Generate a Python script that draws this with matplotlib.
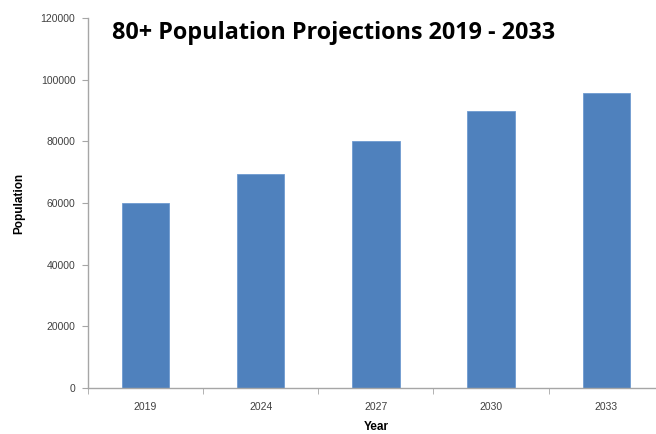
import matplotlib
matplotlib.use("Agg")
import matplotlib.pyplot as plt

plt.rcParams["font.family"] = ["Liberation Sans", "DejaVu Sans"]

years = ["2019", "2024", "2027", "2030", "2033"]
population = [60000, 69500, 80000, 90000, 95700]
y_ticks = [0, 20000, 40000, 60000, 80000, 100000, 120000]

fig = plt.figure(figsize=(6.56, 4.34), dpi=100)
ax = fig.add_axes([0.134, 0.106, 0.878, 0.8525])

x = range(len(years))
ax.bar(x, population, width=0.41, color="#4F81BD", edgecolor="#6f9bd0", linewidth=0.6)

ax.set_xlim(-0.5, len(years) - 0.5)
ax.set_ylim(0, 120000)
ax.set_yticks(y_ticks)
ax.set_yticklabels([str(v) for v in y_ticks])
ax.set_xticks(list(x))
ax.set_xticklabels(years)

# category separators on x axis instead of centred ticks
ax.set_xticks([i - 0.5 for i in range(len(years) + 1)], minor=True)
ax.tick_params(axis="x", which="major", length=0, pad=10)
ax.tick_params(axis="x", which="minor", length=4, color="#a6a6a6")
ax.tick_params(axis="y", length=4, color="#a6a6a6", pad=5)
ax.tick_params(labelsize=7.5, labelcolor="#404040")

for s in ["top", "right"]:
    ax.spines[s].set_visible(False)
for s in ["left", "bottom"]:
    ax.spines[s].set_color("#a6a6a6")
    ax.spines[s].set_linewidth(1)

ax.set_xlabel("Year", fontsize=8.5, fontweight="bold", labelpad=6.5)
ax.set_ylabel("Population", fontsize=8.5, fontweight="bold", labelpad=11)

fig.text(0.171, 0.925, "80+ Population Projections 2019 - 2033",
         fontsize=16.8, fontweight="bold", family="Open Sans", va="center", ha="left")

fig.savefig("out.png", dpi=100)
